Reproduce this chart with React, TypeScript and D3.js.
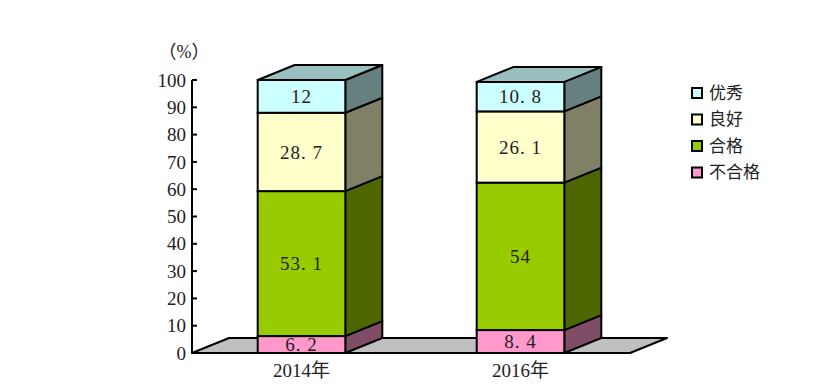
import React, { useEffect, useRef } from 'react';
import * as d3 from 'd3';

// data
const categories = ['2014年', '2016年'];
const seriesNames = ['不合格', '合格', '良好', '优秀'];
const failValues = [6.2, 8.4];
const passValues = [53.1, 54];
const goodValues = [28.7, 26.1];
const excellentValues = [12, 10.8];
const yTicks = [0, 10, 20, 30, 40, 50, 60, 70, 80, 90, 100];

const frontColors = ['#FF99CC', '#99CC00', '#FFFFCC', '#CCFFFF'];
const sideColors = ['#804D66', '#4D6600', '#808066', '#668080'];
const topColor = '#99BFBF';

const W = 824, H = 392;
const DX = 37, DY = -15;
const FONT = '"Liberation Serif", "DejaVu Serif", "Noto Sans CJK SC", serif';

function fmt(v: number) {
  // the source font prints the decimal point full width
  return String(v).replace('.', '. ');
}

export default function App() {
  const ref = useRef<SVGSVGElement | null>(null);

  useEffect(() => {
    const svg = d3.select(ref.current);
    svg.selectAll('*').remove();

    const x0 = 192, x1 = 630;
    const y = d3.scaleLinear().domain([0, 100]).range([353, 80]);
    const x = d3.scaleBand().domain(categories).range([x0, x1]).paddingInner(0.6).paddingOuter(0.3);

    const rows = [failValues, passValues, goodValues, excellentValues];
    const stackData = categories.map((c, i) => {
      const o: any = { cat: c };
      seriesNames.forEach((s, k) => { o[s] = rows[k][i]; });
      return o;
    });
    const stacked = d3.stack<any>().keys(seriesNames)(stackData);

    // floor
    svg.append('polygon')
      .attr('points', [[x0, y(0)], [x1, y(0)], [x1 + DX, y(0) + DY], [x0 + DX, y(0) + DY]].map(p => p.join(',')).join(' '))
      .style('fill', '#C0C0C0')
      .style('stroke', '#000')
      .style('stroke-width', 2)
      .style('stroke-linejoin', 'round');

    // y axis
    svg.append('line')
      .attr('x1', x0).attr('x2', x0).attr('y1', y(0)).attr('y2', y(100))
      .style('stroke', '#000').style('stroke-width', 2);
    const ticks = svg.append('g');
    ticks.selectAll('line').data(yTicks).enter().append('line')
      .attr('x1', x0).attr('x2', x0 + 5)
      .attr('y1', d => y(d)).attr('y2', d => y(d))
      .style('stroke', '#000').style('stroke-width', 2);
    ticks.selectAll('text').data(yTicks).enter().append('text')
      .attr('x', x0 - 6).attr('y', d => y(d))
      .attr('dy', '0.35em')
      .attr('text-anchor', 'end')
      .style('font-family', FONT).style('font-size', '19px').style('fill', '#222')
      .text(d => d);
    svg.append('text')
      .attr('x', 184).attr('y', 58)
      .attr('text-anchor', 'middle')
      .style('font-family', FONT).style('font-size', '18px').style('fill', '#222')
      .text('（%）');

    // bars
    const bw = x.bandwidth();
    categories.forEach((c, i) => {
      const g = svg.append('g');
      const bx = x(c) as number;
      stacked.forEach((layer, k) => {
        const [lo, hi] = layer[i];
        const yt = y(hi), yb = y(lo);
        g.append('polygon')
          .attr('points', [[bx + bw, yb], [bx + bw + DX, yb + DY], [bx + bw + DX, yt + DY], [bx + bw, yt]].map(p => p.join(',')).join(' '))
          .style('fill', sideColors[k]).style('stroke', '#000').style('stroke-width', 2).style('stroke-linejoin', 'round');
        g.append('rect')
          .attr('x', bx).attr('y', yt).attr('width', bw).attr('height', yb - yt)
          .style('fill', frontColors[k]).style('stroke', '#000').style('stroke-width', 2);
        g.append('text')
          .attr('x', bx + bw / 2).attr('y', (yt + yb) / 2).attr('dy', '0.35em')
          .attr('text-anchor', 'middle')
          .style('font-family', FONT).style('font-size', '19px').style('fill', '#222')
          .style('letter-spacing', '1px')
          .text(fmt(rows[k][i]));
      });
      const top = y(stacked[stacked.length - 1][i][1]);
      g.append('polygon')
        .attr('points', [[bx, top], [bx + bw, top], [bx + bw + DX, top + DY], [bx + DX, top + DY]].map(p => p.join(',')).join(' '))
        .style('fill', topColor).style('stroke', '#000').style('stroke-width', 2).style('stroke-linejoin', 'round');
      svg.append('text')
        .attr('x', bx + bw / 2).attr('y', 377)
        .attr('text-anchor', 'middle')
        .style('font-family', FONT).style('font-size', '19px').style('fill', '#222')
        .text(c);
    });

    // legend, top item first
    const legendItems = seriesNames.map((s, k) => ({ s, k })).reverse();
    const lg = svg.append('g').attr('transform', 'translate(692,93)');
    legendItems.forEach((d, j) => {
      lg.append('rect')
        .attr('x', 0).attr('y', j * 26.5 - 5).attr('width', 10).attr('height', 10)
        .style('fill', frontColors[d.k]).style('stroke', '#000').style('stroke-width', 2);
      lg.append('text')
        .attr('x', 17).attr('y', j * 26.5).attr('dy', '0.35em')
        .style('font-family', '"Noto Sans CJK SC", sans-serif').style('font-size', '17px').style('fill', '#222')
        .text(d.s);
    });
  }, []);

  return (
    <svg ref={ref} width={W} height={H}
      style={{ position: 'absolute', left: 0, top: 0, background: '#fff' }} />
  );
}
